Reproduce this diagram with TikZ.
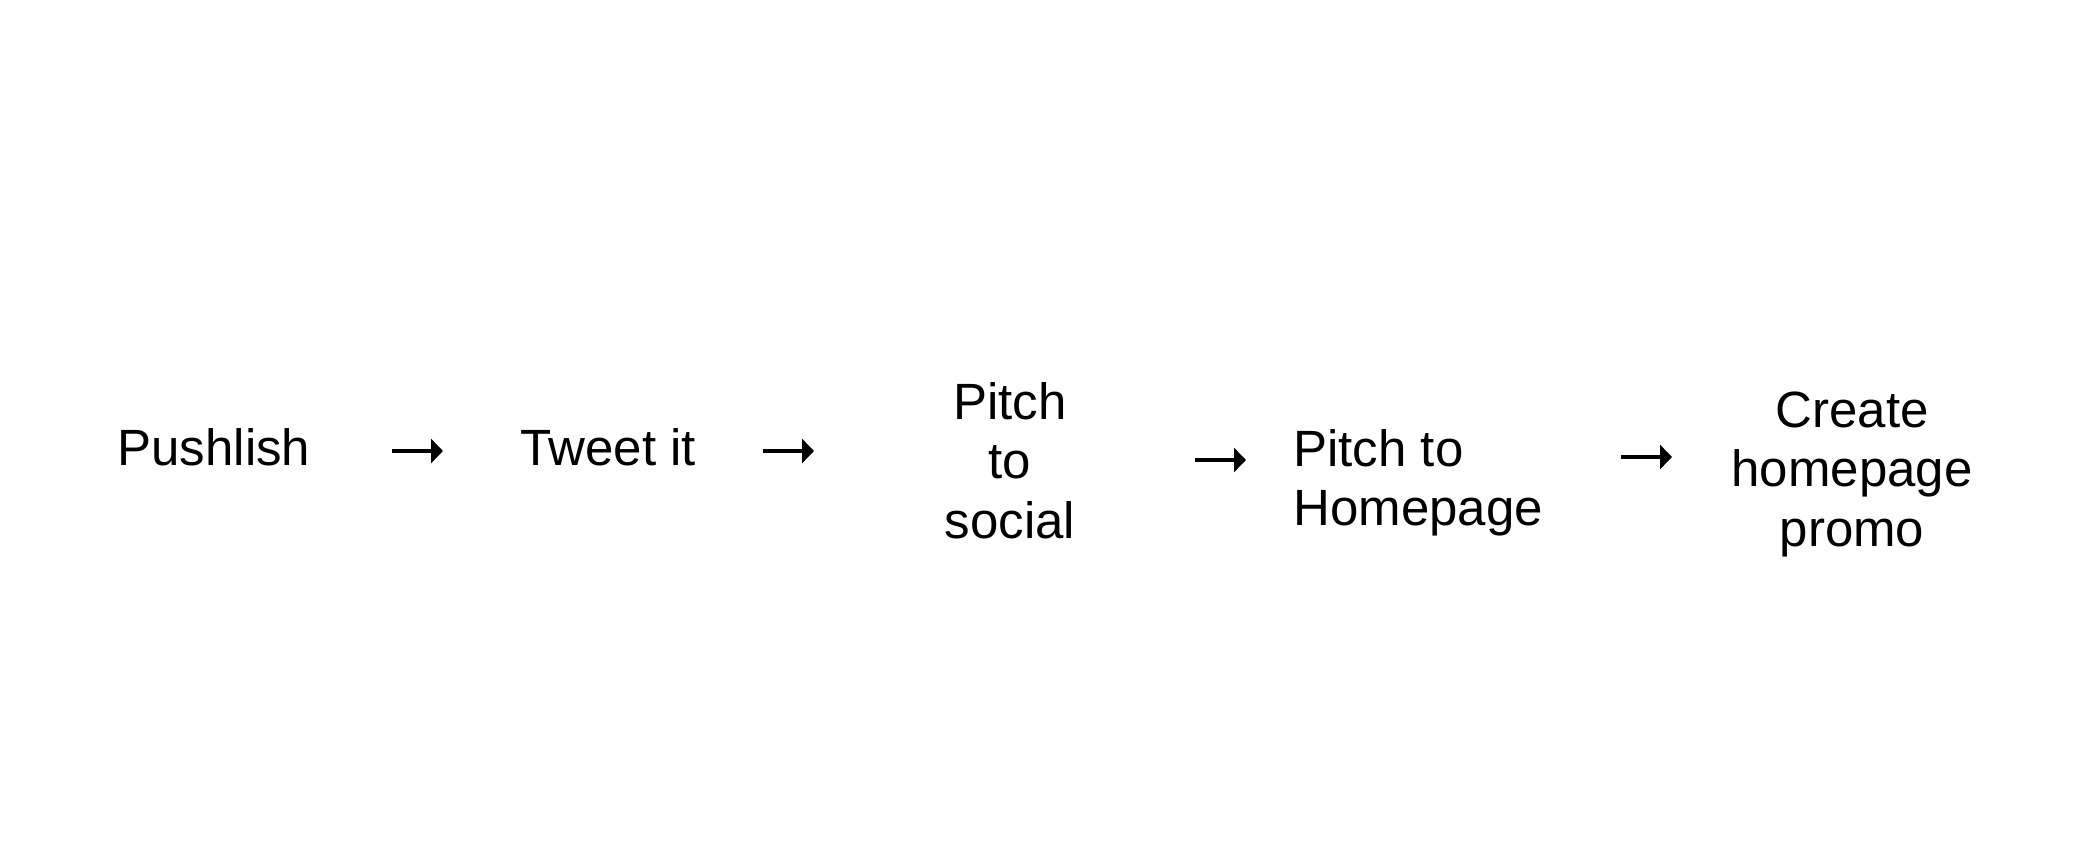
\documentclass[tikz,border=0pt]{standalone}
\usepackage{fontspec}
\setmainfont{Liberation Sans}
\usetikzlibrary{arrows.meta}
\tikzset{
  step label/.style={inner sep=0pt, font=\fontsize{25.5}{29.8}\selectfont},
  flow arrow/.style={line width=2.2pt, -{Triangle[length=6pt,width=12pt]}}
}
\begin{document}
\begin{tikzpicture}[x=0.5pt,y=-0.5pt]
	\useasboundingbox (0,0) rectangle (2088,844);
	\node[step label, anchor=north] (publish) at (214,428) {Pushlish};
	\node[step label, anchor=north] (tweet) at (608,428) {Tweet it};
	\node[step label, anchor=north, align=center] (social) at (1010,382) {Pitch\\to\\social};
	\node[step label, anchor=north west, align=left] (homepage) at (1293,429) {Pitch to\\Homepage};
	\node[step label, anchor=north, align=center] (promo) at (1852,391) {Create\\homepage\\promo};
	% arrows between the steps
	\coordinate (a1s) at (392,451); \coordinate (a1e) at (443,451);
	\coordinate (a2s) at (763,451); \coordinate (a2e) at (814,451);
	\coordinate (a3s) at (1195,460); \coordinate (a3e) at (1246,460);
	\coordinate (a4s) at (1621,457); \coordinate (a4e) at (1672,457);
	\draw[flow arrow] (a1s) -- (a1e);
	\draw[flow arrow] (a2s) -- (a2e);
	\draw[flow arrow] (a3s) -- (a3e);
	\draw[flow arrow] (a4s) -- (a4e);
\end{tikzpicture}
\end{document}
